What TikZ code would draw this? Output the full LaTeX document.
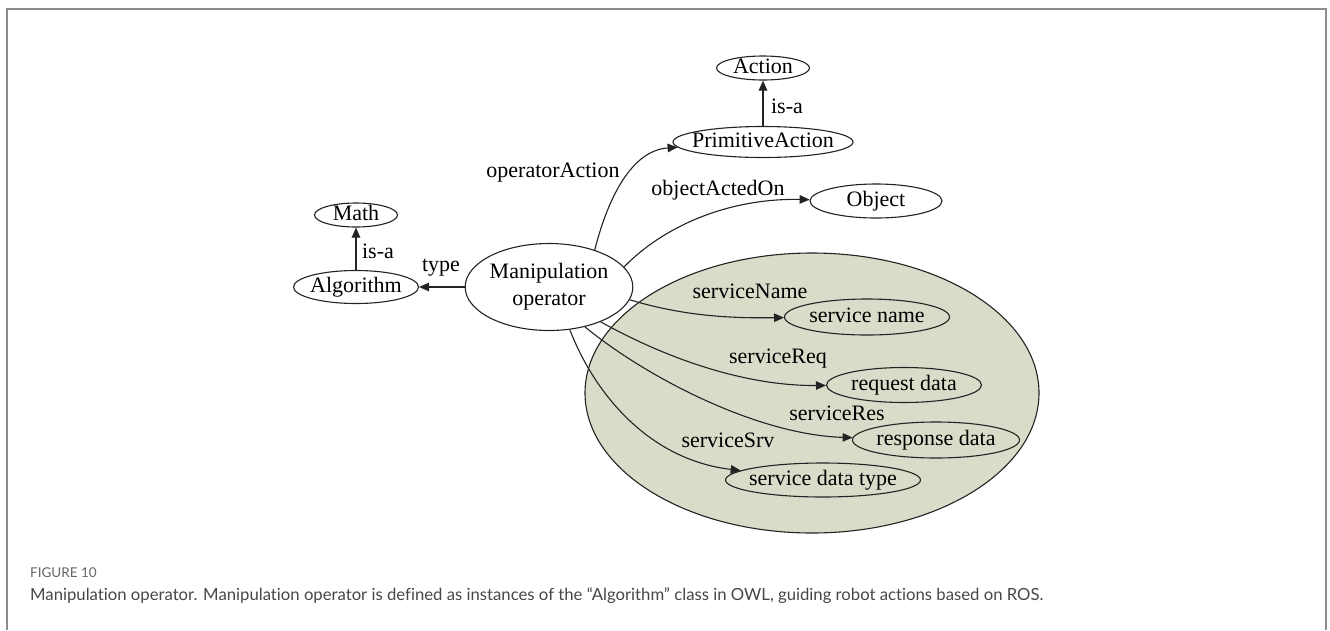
\documentclass[tikz,border=0pt]{standalone}
\usepackage{fontspec}
\setmainfont{Liberation Serif}
\newfontfamily\capfont[Ligatures={NoCommon,NoRequired}]{Lato}
\usetikzlibrary{shapes.geometric,arrows.meta}
\definecolor{grpfill}{RGB}{216,220,200}
\definecolor{framegray}{RGB}{140,140,140}
\definecolor{inkgray}{RGB}{35,35,35}
\newcommand\ztext[1]{\makebox[0pt]{#1}}
% split "ti" so the caption font keeps separate letters
\newcommand\tsplit{t\kern0pt i}

\begin{document}
\begin{tikzpicture}[x=1pt,y=-1pt,
  concept/.style={ellipse,draw=inkgray,line width=1.1pt,fill=white,inner sep=0pt,
    font=\fontsize{22}{27}\selectfont,text height=13pt,text depth=3pt},
  rel/.style={draw=inkgray,line width=1.1pt,-{Triangle[length=10pt,width=8.5pt]}},
  lbl/.style={font=\fontsize{22}{27}\selectfont,inner sep=0pt,text height=13pt,text depth=3pt}]

\useasboundingbox (0,0) rectangle (1330,630);
\fill[white] (0,0) rectangle (1330,630);
\draw[framegray,line width=2pt] (6.5,630) -- (6.5,8.5) -- (1325.5,8.5) -- (1325.5,630);

% service group
\node[ellipse,draw=inkgray,line width=1.1pt,fill=grpfill,minimum width=454pt,minimum height=280pt] (grp) at (812,393) {};

% concepts
\node[concept,minimum width=93pt,minimum height=24pt] (action) at (763,68) {\ztext{Action}};
\node[concept,minimum width=180pt,minimum height=31pt] (prim) at (763,142) {\ztext{PrimitiveAction}};
\node[concept,minimum width=132pt,minimum height=34pt] (object) at (876,201) {\ztext{Object}};
\node[concept,minimum width=83pt,minimum height=24pt] (math) at (356,215) {\ztext{Math}};
\node[concept,minimum width=125pt,minimum height=33pt] (algo) at (356,287) {\ztext{Algorithm}};
\node[ellipse,draw=inkgray,line width=1.1pt,fill=white,inner sep=0pt,align=center,
      font=\fontsize{22}{27}\selectfont,minimum width=165pt,minimum height=87pt] (mo) at (549,287) {Manipulation\\operator};
\node[concept,minimum width=165pt,minimum height=36pt,fill=grpfill] (sname) at (867,317) {\ztext{service name}};
\node[concept,minimum width=155pt,minimum height=35pt,fill=grpfill] (req) at (904,385) {\ztext{request data}};
\node[concept,minimum width=167pt,minimum height=36pt,fill=grpfill] (res) at (936,440) {\ztext{response data}};
\node[concept,minimum width=195pt,minimum height=34pt,fill=grpfill] (sdt) at (823,480) {\ztext{service data type}};

% relations
\draw[rel] (prim) -- (action);
\draw[rel] (algo) -- (math);
\draw[rel] (mo) -- (algo);
\draw[rel] (mo.39) .. controls (610,190) and (635,150) .. (prim);
\draw[rel] (mo.15) .. controls (665,225) and (730,198) .. (object);
\draw[rel] (mo.-9.5) .. controls (690,318) and (740,318) .. (sname);
\draw[rel] (mo.-34) .. controls (660,355) and (740,386) .. (req);
\draw[rel] (mo.-48) .. controls (650,380) and (760,435) .. (res);
\draw[rel] (mo.-64) .. controls (595,395) and (650,460) .. (sdt);

% relation labels
\node[lbl] (l-isa1) at (787,108) {is-a};
\node[lbl] (l-isa2) at (378,253) {is-a};
\node[lbl] (l-type) at (441,266) {type};
\node[lbl] (l-opact) at (553,172) {operatorAction};
\node[lbl] (l-obj) at (718,190) {objectActedOn};
\node[lbl] (l-sname) at (750,293) {serviceName};
\node[lbl] (l-sreq) at (778,358) {serviceReq};
\node[lbl] (l-sres) at (837,415) {serviceRes};
\node[lbl] (l-ssrv) at (728,442) {serviceSrv};

% caption
\node[anchor=base west,inner sep=0pt,font=\capfont\fontsize{13.5}{15}\selectfont,text=black!60] (fig) at (30,577) {FIGURE 10};
\node[anchor=base west,inner sep=0pt,font=\capfont\fontsize{16.7}{20}\selectfont,text=black!72] (cap) at (30,600)
  {Manipula\tsplit on operator. Manipula\tsplit on operator is defined as instances of the “Algorithm” class in OWL, guiding robot ac\tsplit ons based on ROS.};
\end{tikzpicture}
\end{document}
